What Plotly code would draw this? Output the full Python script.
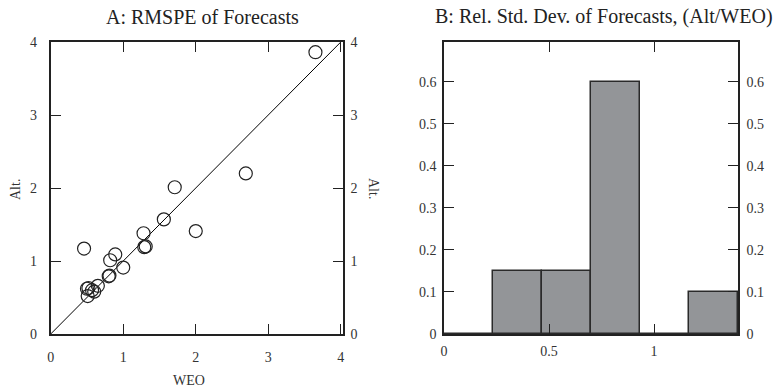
import plotly.graph_objects as go

# ---------- data ----------
# Panel A: RMSPE of forecasts (WEO vs Alt.)
weo = [0.46, 0.89, 0.82, 1.00, 0.80, 0.81, 0.50, 0.52, 0.57, 0.65, 0.51, 0.60,
       1.28, 1.29, 1.31, 1.56, 2.00, 1.71, 2.69, 3.65]
alt = [1.17, 1.09, 1.01, 0.91, 0.79, 0.80, 0.62, 0.63, 0.60, 0.66, 0.52, 0.58,
       1.38, 1.19, 1.20, 1.57, 1.41, 2.01, 2.20, 3.86]
diag = [0, 4]

# Panel B: histogram of relative std. dev. (Alt/WEO)
bin_left = [0.0, 0.2333, 0.4667, 0.7, 0.9333, 1.1667]
bin_width = 0.2333
freq = [0.0, 0.15, 0.15, 0.60, 0.0, 0.10]

A_ticks = [0, 1, 2, 3, 4]
B_xticks = [0, 0.5, 1]
B_yticks = [0, 0.1, 0.2, 0.3, 0.4, 0.5, 0.6]

FONT = "'Liberation Serif', 'Times New Roman', 'DejaVu Serif', serif"
W, H = 778, 388

def px_x(p):
    return p / W

def px_y(p):
    return 1 - p / H

fig = go.Figure()

fig.add_trace(go.Scatter(x=diag, y=diag, mode="lines",
                         line=dict(color="black", width=1),
                         xaxis="x", yaxis="y", showlegend=False, hoverinfo="skip"))
fig.add_trace(go.Scatter(x=weo, y=alt, mode="markers",
                         marker=dict(symbol="circle-open", size=13,
                                     color="#222", line=dict(width=1.2)),
                         xaxis="x", yaxis="y", showlegend=False))

fig.add_trace(go.Bar(x=bin_left, y=freq, width=bin_width, offset=0,
                     marker=dict(color="#939598", line=dict(color="#2a2a2a", width=1.5)),
                     xaxis="x2", yaxis="y2", showlegend=False))

axfont = dict(family=FONT, size=14, color="#333")
common = dict(showgrid=False, zeroline=False, showline=True, linecolor="#222",
              linewidth=1.6, ticks="inside", ticklen=10, tickcolor="#222",
              tickwidth=1.2, tickfont=axfont, automargin=False)

A_dom_x = [px_x(50.7), px_x(343)]
B_dom_x = [px_x(444), px_x(738)]
dom_y = [px_y(334), px_y(42)]

fig.update_layout(
    width=W, height=H, margin=dict(l=0, r=0, t=0, b=0, autoexpand=False),
    plot_bgcolor="white", paper_bgcolor="white", bargap=0,
    font=dict(family=FONT),
    xaxis=dict(domain=A_dom_x, range=[0, 4.03], tickvals=A_ticks, mirror="ticks",
               anchor="y", ticklabelstandoff=9, **common),
    yaxis=dict(domain=dom_y, range=[0, 4], tickvals=A_ticks, mirror=True,
               anchor="x", ticklabelstandoff=9, **common),
    yaxis3=dict(domain=dom_y, range=[0, 4], tickvals=A_ticks, overlaying="y",
                side="right", anchor="x", ticklabelstandoff=3, **common),
    xaxis2=dict(domain=B_dom_x, range=[0, 1.4], tickvals=B_xticks, mirror="ticks",
                anchor="y2", ticklabelstandoff=3, **common),
    yaxis2=dict(domain=dom_y, range=[0, 0.695], tickvals=B_yticks, mirror=True,
                anchor="x2", ticklabelstandoff=3, **common),
    yaxis4=dict(domain=dom_y, range=[0, 0.695], tickvals=B_yticks, overlaying="y2",
                side="right", anchor="x2", ticklabelstandoff=4, **common),
)

# dummy traces so overlaying axes render
fig.add_trace(go.Scatter(x=[None], y=[None], xaxis="x", yaxis="y3", showlegend=False))
fig.add_trace(go.Scatter(x=[None], y=[None], xaxis="x2", yaxis="y4", showlegend=False))

titlefont = dict(family=FONT, size=20, color="#222")
labfont = dict(family=FONT, size=14, color="#333")

def note(text, x, y, font, angle=0):
    fig.add_annotation(text=text, x=px_x(x), y=px_y(y), xref="paper", yref="paper",
                       xanchor="center", yanchor="middle", showarrow=False,
                       font=font, textangle=angle)

note("A: RMSPE of Forecasts", 202, 17, titlefont)
note("B: Rel. Std. Dev. of Forecasts, (Alt/WEO)", 604, 17, titlefont)
note("WEO", 189, 380, labfont)
note("Alt.", 15, 190, labfont, -90)
note("Alt.", 374, 188, labfont, 90)

fig.write_html("out.html", config={"displayModeBar": False},
               post_script="document.body.style.margin='0';")
